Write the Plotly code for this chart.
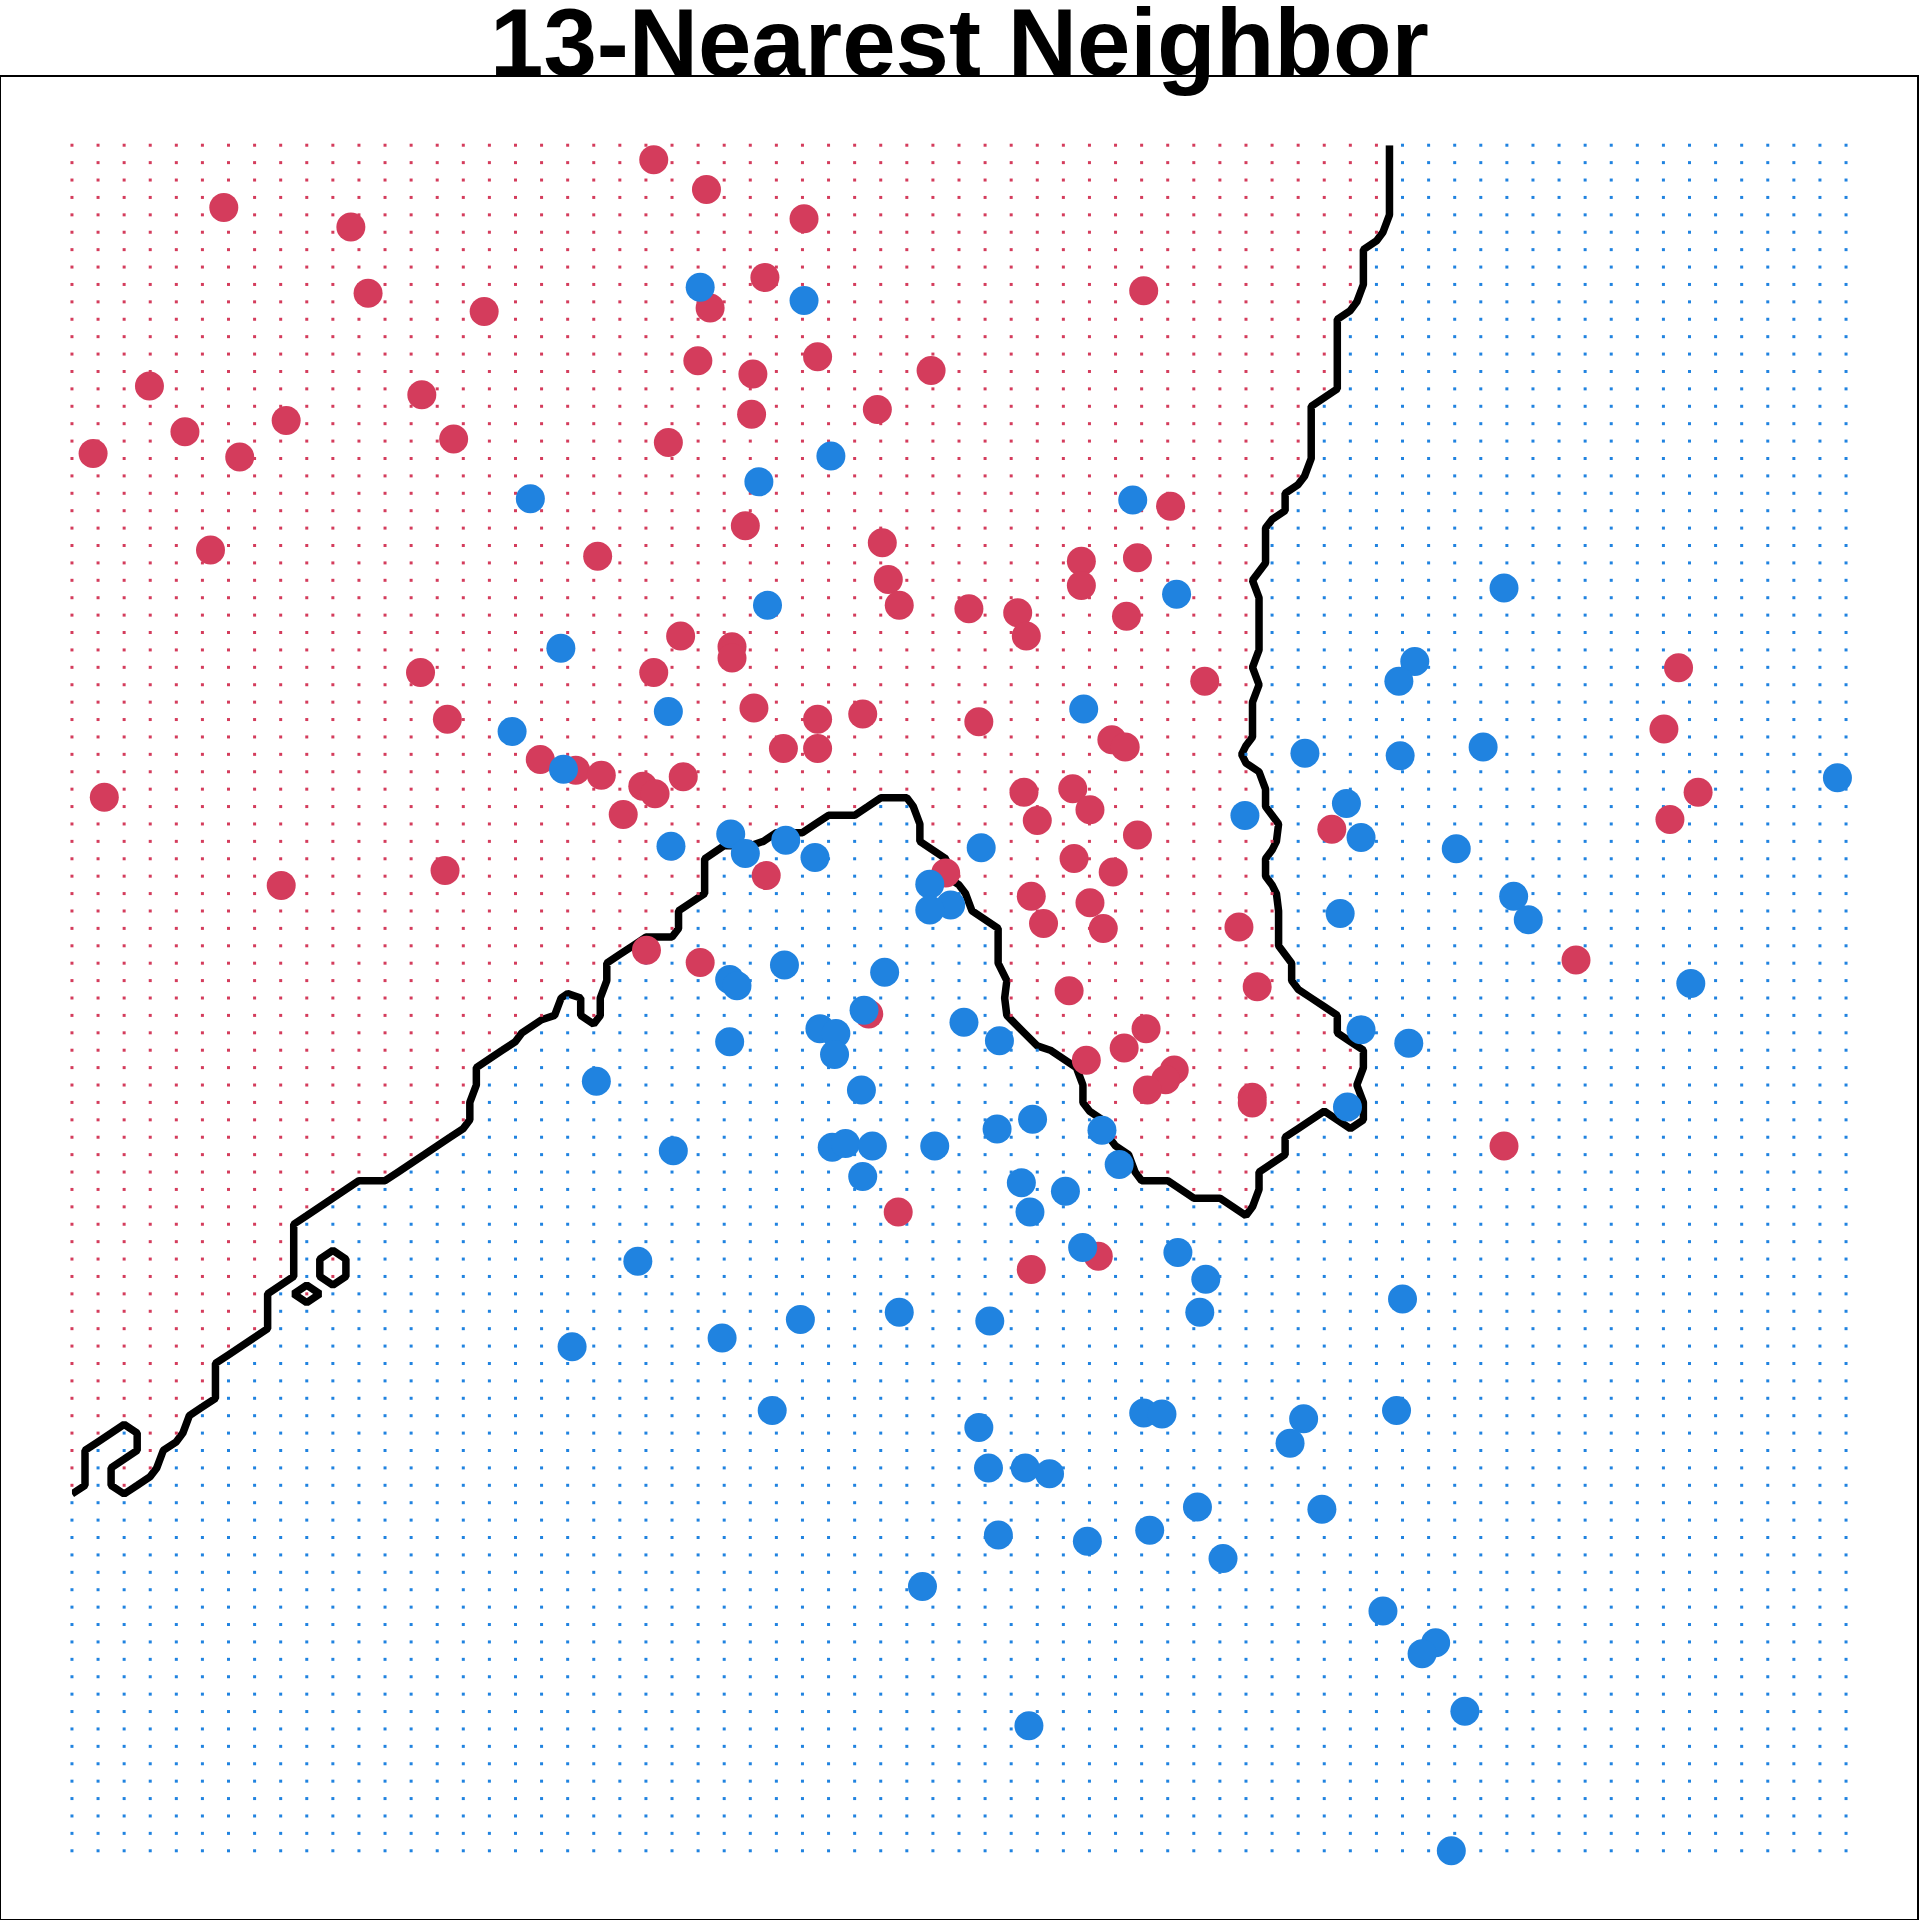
import numpy as np
import plotly.graph_objects as go

# ---- training data (class "red" and class "blue") ----
red_x = [-0.370, -0.168, -2.018, -1.531, 0.206, 0.056, -1.465, -0.154, -1.020, 1.508,
         0.258, -0.201, 0.010, 0.693, -2.303, -1.259, -1.779, -2.167, 0.005, 0.487,
         -1.137, -0.314, -2.519, -1.957, 1.611, -0.019, -2.069, -0.585, 0.506, 1.269,
         1.484, 0.529, 1.269, 0.571, 0.838, 1.025, 1.442, -0.267, 1.058, -0.070,
         -0.070, -1.264, -0.370, 1.742, -1.161, 0.014, 0.258, 0.431, 0.876, 3.558,
         3.502, 0.127, 0.258, 1.386, 1.437, -0.805, -0.669, -0.571, -0.257, -0.412,
         -0.365, -2.476, 1.049, 1.236, 1.302, -0.487, 1.100, 3.633, 3.525, 2.229,
         1.484, 0.061, -1.170, -1.798, 1.241, 1.391, 0.749, 1.077, 1.302, 1.124,
         1.353, 1.873, -0.398, -0.192, 3.165, 1.943, 1.222, 0.454, 1.517, 1.433,
         1.288, 1.625, 1.592, 1.522, 1.924, 1.924, 2.889, 0.567, 1.334, 1.077]
red_y = [2.858, 2.773, 2.721, 2.665, 2.689, 2.520, 2.475, 2.432, 2.422, 2.482,
         2.292, 2.281, 2.243, 2.253, 2.208, 2.183, 2.109, 2.077, 2.127, 2.141,
         2.056, 2.046, 2.014, 2.004, 1.863, 1.807, 1.737, 1.719, 1.758, 1.705,
         1.715, 1.652, 1.635, 1.578, 1.568, 1.557, 1.547, 1.490, 1.490, 1.459,
         1.427, 1.385, 1.385, 1.360, 1.251, 1.283, 1.251, 1.266, 1.244, 1.399,
         1.223, 1.167, 1.167, 1.192, 1.171, 1.135, 1.104, 1.090, 1.086, 1.058,
         1.037, 1.027, 1.041, 1.051, 0.991, 0.977, 0.960, 1.041, 0.963, 0.935,
         0.918, 0.802, 0.816, 0.773, 0.851, 0.812, 0.809, 0.742, 0.724, 0.664,
         0.650, 0.654, 0.587, 0.552, 0.559, 0.482, 0.471, 0.404, 0.362, 0.306,
         0.271, 0.243, 0.215, 0.186, 0.165, 0.148, 0.025, -0.165, -0.292, -0.330]

blue_x = [-0.192, 0.206, 0.309, 0.033, -0.843, 1.466, 0.066, 1.634, -0.726, 2.889,
          2.547, 2.486, -0.314, 1.278, -0.913, 2.126, 2.491, 2.809, -0.716, 4.167,
          2.285, 1.896, 2.341, -0.304, -0.075, -0.019, 0.136, 0.248, 0.885, 2.706,
          0.688, 0.768, 0.688, 2.926, 2.982, 2.261, 0.131, 0.515, -0.079, -0.051,
          3.605, 0.819, 0.267, 0.328, -0.079, 0.323, 0.955, 2.341, 2.524, 0.426,
          -0.590, 2.289, 0.946, 1.082, 1.348, -0.295, 0.314, 0.365, 0.468, 0.707,
          1.414, 0.431, 1.039, 1.208, 1.072, -0.431, 1.274, 1.639, 1.746, 2.500,
          1.723, 0.192, 0.571, 0.918, -0.108, -0.683, 0.084, 1.508, 1.578, 2.477,
          2.121, 0.876, 2.069, 0.913, 1.054, 1.147, 1.714, 2.191, 0.951, 1.292,
          1.531, 1.812, 0.660, 2.425, 2.627, 2.575, 2.739, 1.068, 2.687, 0.436]
blue_y = [2.492, 2.454, 2.007, 1.933, 1.884, 1.881, 1.578, 1.610, 1.455, 1.628,
          1.417, 1.360, 1.273, 1.280, 1.216, 1.153, 1.146, 1.171, 1.107, 1.083,
          1.009, 0.974, 0.911, 0.886, 0.921, 0.865, 0.903, 0.854, 0.882, 0.879,
          0.777, 0.717, 0.703, 0.742, 0.675, 0.693, 0.545, 0.524, 0.503, 0.485,
          0.492, 0.380, 0.362, 0.348, 0.324, 0.288, 0.327, 0.359, 0.320, 0.186,
          0.211, 0.137, 0.074, 0.102, 0.070, 0.011, 0.021, 0.032, 0.025, 0.025,
          -0.028, -0.063, -0.081, -0.105, -0.165, -0.306, -0.267, -0.281, -0.358, -0.415,
          -0.453, -0.474, -0.453, -0.478, -0.527, -0.552, -0.735, -0.742, -0.745, -0.735,
          -0.759, -0.784, -0.829, -0.900, -0.900, -0.917, -1.012, -1.019, -1.093, -1.111,
          -1.079, -1.160, -1.241, -1.311, -1.402, -1.434, -1.599, -1.641, -2.000, 0.415]

# ---- prediction grid ----
grid_x = np.round(np.arange(-2.6, 4.2 + 1e-9, 0.1), 2)    # 69 columns
grid_y = np.round(np.arange(-2.0, 2.9 + 1e-9, 0.05), 3)   # 99 rows
K = 13

RED = "#D43C5C"
BLUE = "#2083E0"

# ---- k-nearest-neighbour classification of the grid ----
tx = np.array(red_x + blue_x)
ty = np.array(red_y + blue_y)
lab = np.array([0] * len(red_x) + [1] * len(blue_x), dtype=float)
GX, GY = np.meshgrid(grid_x, grid_y)
d2 = (GX.ravel()[:, None] - tx[None, :]) ** 2 + (GY.ravel()[:, None] - ty[None, :]) ** 2
nn = np.argsort(d2, axis=1)[:, :K]
prob = lab[nn].mean(axis=1).reshape(GX.shape)
is_blue = prob.ravel() > 0.5

fig = go.Figure()

fig.add_trace(go.Contour(
    x=grid_x, y=grid_y, z=prob,
    autocontour=False,
    contours=dict(start=0.5, end=0.5, size=1, coloring="none"),
    line=dict(color="black", width=7.5, smoothing=0),
    showscale=False, hoverinfo="skip",
))

fig.add_trace(go.Scatter(
    x=GX.ravel()[~is_blue], y=GY.ravel()[~is_blue], mode="markers",
    marker=dict(symbol="square", size=3, color=RED, line=dict(width=0)),
    hoverinfo="skip", showlegend=False,
))
fig.add_trace(go.Scatter(
    x=GX.ravel()[is_blue], y=GY.ravel()[is_blue], mode="markers",
    marker=dict(symbol="square", size=3, color=BLUE, line=dict(width=0)),
    hoverinfo="skip", showlegend=False,
))

fig.add_trace(go.Scatter(
    x=red_x, y=red_y, mode="markers",
    marker=dict(size=29, color=RED, line=dict(width=0)),
    showlegend=False,
))
fig.add_trace(go.Scatter(
    x=blue_x, y=blue_y, mode="markers",
    marker=dict(size=29, color=BLUE, line=dict(width=0)),
    showlegend=False,
))

axis_common = dict(showgrid=False, zeroline=False, showticklabels=False, ticks="",
                   showline=True, mirror=True, linecolor="black", linewidth=2)

fig.update_layout(
    width=1920, height=1920,
    margin=dict(l=1, r=1, t=77, b=1),
    paper_bgcolor="white", plot_bgcolor="white",
    xaxis=dict(range=[-2.872, 4.472], **axis_common),
    yaxis=dict(range=[-2.196, 3.096], **axis_common),
    showlegend=False,
    annotations=[dict(
        text="<b>13-Nearest Neighbor</b>", x=0.5, y=1, xref="paper", yref="paper",
        xanchor="center", yanchor="bottom", yshift=-21, showarrow=False,
        font=dict(family="Liberation Sans, Arial, sans-serif", size=96, color="black"),
    )],
)

fig.write_html("out.html")
